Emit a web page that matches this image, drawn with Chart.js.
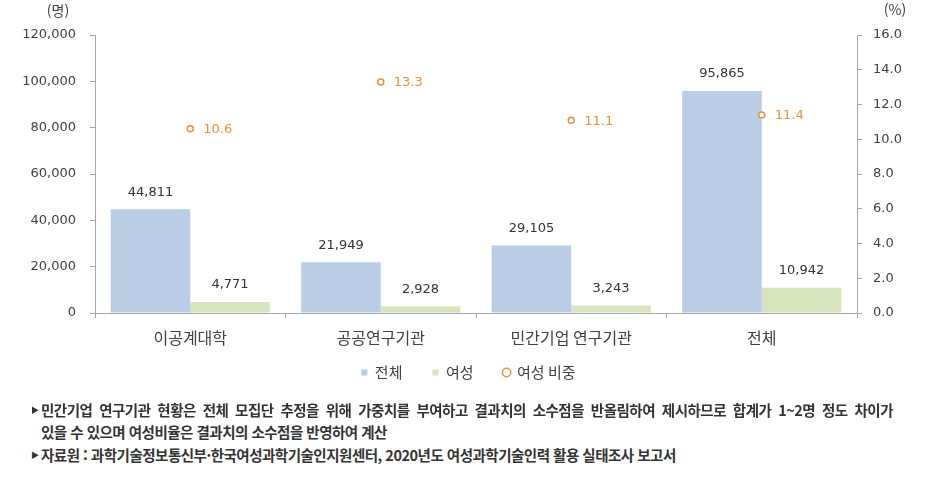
<!DOCTYPE html>
<html lang="ko">
<head>
<meta charset="utf-8">
<script src="https://cdn.jsdelivr.net/npm/chart.js@4.4.1/dist/chart.umd.min.js"></script>
<style>
  body { margin: 0; background: #fff; width: 937px; height: 477px; overflow: hidden; position: relative; font-family: "Noto Sans CJK KR", sans-serif; }
  #wrap { position: absolute; left: 0; top: 0; width: 937px; height: 411px; }
  .note { position: absolute; left: 41px; font-size: 14.5px; color: #333; font-weight: 700; line-height: 18px; white-space: nowrap; letter-spacing: -0.5px; }
  .note.j { width: 852px; text-align: justify; text-align-last: justify; white-space: normal; }
  .mark { position: absolute; left: 31px; font-size: 8px; color: #333; line-height: 18px; }
</style>
</head>
<body>
<div id="wrap"><canvas id="c" width="937" height="411"></canvas></div>
<div class="mark" style="top:401px;">▶</div>
<div class="note j" style="top:401px;">민간기업 연구기관 현황은 전체 모집단 추정을 위해 가중치를 부여하고 결과치의 소수점을 반올림하여 제시하므로 합계가 1~2명 정도 차이가</div>
<div class="note" style="top:423px;">있을 수 있으며 여성비율은 결과치의 소수점을 반영하여 계산</div>
<div class="mark" style="top:446px;">▶</div>
<div class="note" style="top:446px;">자료원 : 과학기술정보통신부·한국여성과학기술인지원센터, 2020년도 여성과학기술인력 활용 실태조사 보고서</div>
<script>
// categories and values
var categories = ['이공계대학', '공공연구기관', '민간기업 연구기관', '전체'];
var totalCount = [44811, 21949, 29105, 95865];
var womenCount = [4771, 2928, 3243, 10942];
var womenRatio = [10.6, 13.3, 11.1, 11.4];

var textColor = '#404040';
var axisColor = '#a6a6a6';
var orange = '#e8913c';
var numFont = '"DejaVu Sans", "Noto Sans CJK KR", sans-serif';
var korFont = '"Noto Sans CJK KR", sans-serif';

function fmt(n) {
	return n.toLocaleString('en-US');
}

// value labels above bars, ratio labels right of points, unit labels
var labelPlugin = {
	id: 'labels',
	afterLayout: function(chart) {
		// pull the legend up closer to the axis labels
		chart.legend.top -= 14;
		chart.legend.bottom -= 14;
	},
	afterDatasetsDraw: function(chart) {
		var ctx = chart.ctx;
		ctx.save();
		ctx.font = '13px ' + numFont;
		ctx.textBaseline = 'middle';
		[0, 1].forEach(function(di) {
			var meta = chart.getDatasetMeta(di);
			var data = chart.data.datasets[di].data;
			meta.data.forEach(function(bar, i) {
				ctx.fillStyle = '#333';
				ctx.textAlign = 'center';
				ctx.fillText(fmt(data[i]), bar.x, bar.y - 17);
			});
		});
		var meta = chart.getDatasetMeta(2);
		meta.data.forEach(function(pt, i) {
			ctx.fillStyle = orange;
			ctx.textAlign = 'left';
			ctx.fillText(womenRatio[i].toFixed(1), pt.x + 13, pt.y + 1);
		});
		var area = chart.chartArea;
		ctx.fillStyle = textColor;
		ctx.textAlign = 'center';
		ctx.font = '14px ' + korFont;
		ctx.fillText('(명)', 58, 11);
		ctx.fillText('(%)', area.right + 38, 10);
		ctx.restore();
	}
};

new Chart(document.getElementById('c').getContext('2d'), {
	type: 'bar',
	data: {
		labels: categories,
		datasets: [{
			label: '전체',
			data: totalCount,
			backgroundColor: '#b9cde5',
			barPercentage: 1.0,
			categoryPercentage: 0.835,
			pointStyle: 'rect',
			order: 2
		}, {
			label: '여성',
			data: womenCount,
			backgroundColor: '#d7e4bd',
			barPercentage: 1.0,
			categoryPercentage: 0.835,
			pointStyle: 'rect',
			order: 2
		}, {
			type: 'line',
			label: '여성 비중',
			data: womenRatio,
			yAxisID: 'y1',
			showLine: false,
			pointStyle: 'circle',
			pointRadius: 3,
			pointBorderWidth: 1.5,
			borderWidth: 1.5,
			borderColor: orange,
			backgroundColor: '#fff',
			pointBackgroundColor: '#fff',
			pointBorderColor: orange,
			order: 1
		}]
	},
	options: {
		responsive: false,
		animation: false,
		layout: { padding: { top: 35, left: 0, right: 0, bottom: 7 } },
		plugins: {
			tooltip: { enabled: false },
			legend: {
				position: 'bottom',
				labels: {
					usePointStyle: true,
					boxWidth: 6,
					boxHeight: 6,
					padding: 30,
					color: textColor,
					font: { family: korFont, size: 15 },
					sort: function(a, b) { return a.datasetIndex - b.datasetIndex; }
				}
			}
		},
		scales: {
			x: {
				afterFit: function(s) { s.height = 36; },
				grid: { drawOnChartArea: false, drawTicks: true, tickLength: 5, color: axisColor },
				border: { color: axisColor },
				ticks: {
					color: textColor,
					padding: 12,
					font: { family: korFont, size: 16, lineHeight: 1 }
				}
			},
			y: {
				position: 'left',
				min: 0,
				max: 120000,
				afterFit: function(s) { s.width = 95; },
				grid: { drawOnChartArea: false, drawTicks: true, tickLength: 5, color: axisColor },
				border: { color: axisColor },
				ticks: {
					stepSize: 20000,
					color: textColor,
					padding: 14,
					font: { family: numFont, size: 13 },
					callback: function(v) { return fmt(v); }
				}
			},
			y1: {
				position: 'right',
				min: 0,
				max: 16,
				afterFit: function(s) { s.width = 80; },
				grid: { drawOnChartArea: false, drawTicks: true, tickLength: 5, color: axisColor },
				border: { color: axisColor },
				ticks: {
					stepSize: 2,
					color: textColor,
					padding: 11,
					font: { family: numFont, size: 13 },
					callback: function(v) { return v.toFixed(1); }
				}
			}
		}
	},
	plugins: [labelPlugin]
});
</script>
</body>
</html>
